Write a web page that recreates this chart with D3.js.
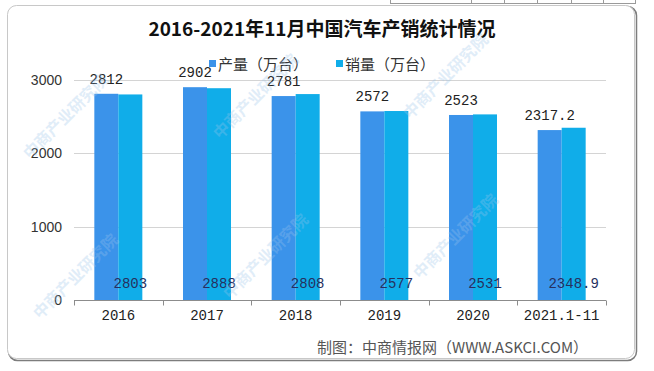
<!DOCTYPE html>
<html>
<head>
<meta charset="utf-8">
<script src="https://cdn.jsdelivr.net/npm/d3@7"></script>
<style>
  body { margin: 0; background: #fff; }
</style>
</head>
<body>
<div id="chart-area"></div>
<script>
// chart data
var years = ["2016", "2017", "2018", "2019", "2020", "2021.1-11"];
var production = [2812, 2902, 2781, 2572, 2523, 2317.2];
var sales = [2803, 2888, 2808, 2577, 2531, 2348.9];
var seriesNames = ["产量（万台）", "销量（万台）"];
var yTicks = [0, 1000, 2000, 3000];

var width = 654;
var height = 371;
var colors = ["#3b93ea", "#10ade9"];
var cjk = "'Noto Sans CJK SC', sans-serif";
var mono = "'Liberation Mono', 'DejaVu Sans Mono', monospace";

var svg = d3.select("#chart-area")
    .append("svg")
    .attr("width", width)
    .attr("height", height);

// bits of a table above the picture
var tableBits = svg.append("g").attr("stroke", "#9a9a9a").attr("stroke-width", 1);
tableBits.append("line").attr("x1", 390).attr("x2", 636).attr("y1", 3.5).attr("y2", 3.5);
[390, 471, 504, 537, 571, 603, 635].forEach(function(x) {
    tableBits.append("line").attr("x1", x + 0.5).attr("x2", x + 0.5).attr("y1", 0).attr("y2", 3.5);
});

// frame with a small shadow
svg.append("rect")
    .attr("x", 8.5).attr("y", 6.5)
    .attr("width", 628).attr("height", 354)
    .attr("rx", 9)
    .attr("fill", "none")
    .attr("stroke", "#7d7d7d")
    .attr("stroke-width", 1.5);
svg.append("rect")
    .attr("x", 7.5).attr("y", 5.5)
    .attr("width", 627).attr("height", 353)
    .attr("rx", 9)
    .attr("fill", "#fff")
    .attr("stroke", "#c8c8c8");

// scales
var x0 = d3.scaleBand()
    .domain(years)
    .range([74, 606])
    .padding(0);

var bw = x0.bandwidth();
var x1 = d3.scaleBand()
    .domain([0, 1])
    .range([bw / 2 - 24, bw / 2 + 24]);

var y = d3.scaleLinear()
    .domain([0, 3000])
    .range([300, 80]);

var g = svg.append("g");

// grid lines
g.selectAll(".grid")
    .data(yTicks.filter(function(d) { return d > 0; }))
    .enter()
    .append("line")
        .attr("class", "grid")
        .attr("x1", 74).attr("x2", 606)
        .attr("y1", function(d) { return Math.round(y(d)) + 0.5; })
        .attr("y2", function(d) { return Math.round(y(d)) + 0.5; })
        .attr("stroke", "#d4d4d4");

// left axis, labels only
var yAxisCall = d3.axisLeft(y)
    .tickValues(yTicks)
    .tickSize(0)
    .tickPadding(12)
    .tickFormat(function(d) { return d; });

var ya = g.append("g")
    .attr("class", "left axis")
    .attr("transform", "translate(74, 0)")
    .call(yAxisCall);
ya.select(".domain").remove();
ya.selectAll("text")
    .attr("font-family", "'Liberation Sans', Arial, sans-serif")
    .attr("font-size", "14px")
    .attr("fill", "#333");

// bars
var rows = years.map(function(yr, i) {
    return { year: yr, values: [production[i], sales[i]] };
});

var groups = g.selectAll(".grp")
    .data(rows)
    .enter()
    .append("g")
        .attr("class", "grp")
        .attr("transform", function(d) { return "translate(" + x0(d.year) + ",0)"; });

groups.selectAll("rect")
    .data(function(d) { return d.values.map(function(v, k) { return { k: k, v: v }; }); })
    .enter()
    .append("rect")
        .attr("x", function(d) { return x1(d.k); })
        .attr("y", function(d) { return y(d.v); })
        .attr("width", x1.bandwidth())
        .attr("height", function(d) { return y(0) - y(d.v); })
        .attr("fill", function(d) { return colors[d.k]; });

// bottom axis
var bottomAxis = d3.axisBottom(x0).tickSize(0).tickPadding(10);
var xa = g.append("g")
    .attr("class", "bottom axis")
    .attr("transform", "translate(0, 300.5)")
    .call(bottomAxis);
xa.select(".domain").attr("stroke", "#8c8c8c").attr("d", "M74,0H606");
xa.selectAll("text")
    .attr("font-family", mono)
    .attr("font-size", "14px")
    .attr("fill", "#222");
// boundary ticks
xa.selectAll(".bnd")
    .data(years.concat(["end"]))
    .enter()
    .append("line")
        .attr("class", "bnd")
        .attr("x1", function(d, i) { return Math.round(74 + i * bw) + 0.5; })
        .attr("x2", function(d, i) { return Math.round(74 + i * bw) + 0.5; })
        .attr("y1", 0).attr("y2", 5)
        .attr("stroke", "#8c8c8c");

// production labels above bars
g.selectAll(".plab")
    .data(rows)
    .enter()
    .append("text")
        .attr("class", "plab")
        .attr("x", function(d) { return x0(d.year) + x1(0) + x1.bandwidth() / 2; })
        .attr("y", function(d) { return y(d.values[0]) - 10; })
        .attr("text-anchor", "middle")
        .attr("font-family", mono)
        .attr("font-size", "14px")
        .attr("fill", "#222")
        .text(function(d) { return d.values[0]; });

// sales labels inside bars at the bottom
g.selectAll(".slab")
    .data(rows)
    .enter()
    .append("text")
        .attr("class", "slab")
        .attr("x", function(d) { return x0(d.year) + x1(1) + x1.bandwidth() / 2; })
        .attr("y", 288)
        .attr("text-anchor", "middle")
        .attr("font-family", mono)
        .attr("font-size", "14px")
        .attr("fill", "#26305f")
        .text(function(d) { return d.values[1]; });

// title
svg.append("text")
    .attr("x", 322)
    .attr("y", 36)
    .attr("text-anchor", "middle")
    .attr("font-family", cjk)
    .attr("font-weight", "bold")
    .attr("font-size", "19px")
    .attr("fill", "#111")
    .text("2016-2021年11月中国汽车产销统计情况");

// legend
var legX = [209, 336];
var leg = svg.selectAll(".leg")
    .data(seriesNames)
    .enter()
    .append("g")
        .attr("class", "leg")
        .attr("transform", function(d, i) { return "translate(" + legX[i] + ", 0)"; });
leg.append("rect")
    .attr("x", 0).attr("y", 60)
    .attr("width", 7).attr("height", 7)
    .attr("fill", function(d, i) { return colors[i]; });
leg.append("text")
    .attr("x", 9)
    .attr("y", 70)
    .attr("font-family", cjk)
    .attr("font-size", "15px")
    .attr("fill", "#333")
    .text(function(d) { return d; });

// source note
svg.append("text")
    .attr("x", 317)
    .attr("y", 353)
    .attr("font-family", cjk)
    .attr("font-size", "15px")
    .attr("fill", "#555")
    .text("制图：中商情报网（WWW.ASKCI.COM）");

// faint watermark, kept inside the frame
var wm = [[30, 160], [220, 140], [410, 120], [40, 320], [230, 300], [420, 280]];
svg.selectAll(".wm")
    .data(wm)
    .enter()
    .append("text")
        .attr("class", "wm")
        .attr("transform", function(d) { return "translate(" + d[0] + "," + d[1] + ") rotate(-45)"; })
        .attr("font-family", cjk)
        .attr("font-weight", "bold")
        .attr("font-size", "16px")
        .attr("fill", "#9cc4ea")
        .attr("opacity", 0.3)
        .text("中商产业研究院");
</script>
</body>
</html>
